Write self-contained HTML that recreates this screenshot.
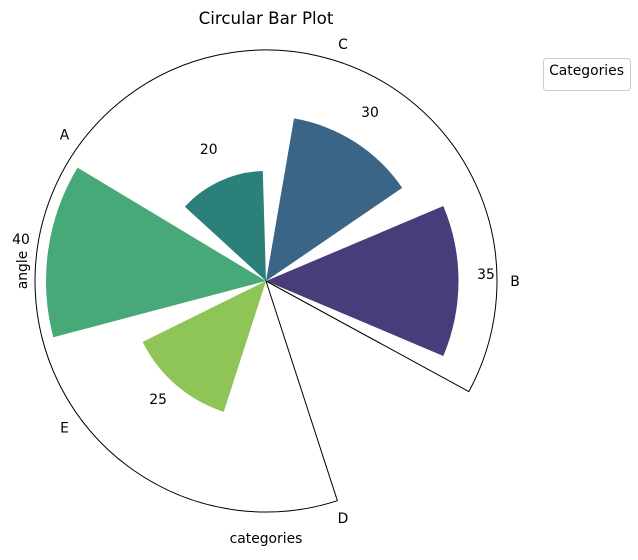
<!DOCTYPE html>
<html><head><meta charset="utf-8"><style>
body{margin:0;background:#fff;}
svg text{font-family:"DejaVu Sans","Liberation Sans",sans-serif;fill:#000;}
</style></head><body>
<svg id="chart" width="638" height="555" viewBox="0 0 638 555" xmlns="http://www.w3.org/2000/svg">
<rect width="638" height="555" fill="#fff"/>
<text x="266" y="24" font-size="16.7" text-anchor="middle">Circular Bar Plot</text>
<text x="266" y="543" font-size="13.9" text-anchor="middle">categories</text>
<text transform="translate(27,270) rotate(-90)" font-size="13.9" text-anchor="middle">angle</text>
<g>
<rect x="543.5" y="58.5" width="87" height="32" rx="3" fill="#fff" stroke="#ccc"/>
<text x="586.5" y="75" font-size="13.9" text-anchor="middle">Categories</text>
</g>
<g id="plot"></g>
</svg>
<script>
const barLabels = ["B","C","teal","A","E"];
const barValues = [35, 30, 20, 40, 25];
const barColors = ["#483d7a","#3b6586","#2b8079","#47a878","#8fc456"];
const tickLabels = ["B","C","A","E","D"];
const cx = 266, cy = 281, rMax = 42, R = 231;
const thetaMinDeg = -28.6, thetaMaxDeg = 288;
const barWidth = 0.8;
function rScale(v){ return v / rMax * R; }
function pt(theta, r){ return [cx + r*Math.cos(theta), cy - r*Math.sin(theta)]; }
const ns = "http://www.w3.org/2000/svg";
const g = document.getElementById("plot");
const t0 = thetaMinDeg*Math.PI/180, t1 = thetaMaxDeg*Math.PI/180;
const a = pt(t0, R), b = pt(t1, R);
const outline = document.createElementNS(ns, "path");
outline.setAttribute("d", `M${cx},${cy} L${a[0]},${a[1]} A${R},${R} 0 1 0 ${b[0]},${b[1]} Z`);
outline.setAttribute("fill", "none");
outline.setAttribute("stroke", "#000");
outline.setAttribute("stroke-width", "1");


g.appendChild(outline);
barValues.forEach((v, i) => {
  const th = i, r = rScale(v);
  const p1 = pt(th - barWidth/2, r), p2 = pt(th + barWidth/2, r);
  const path = document.createElementNS(ns, "path");
  path.setAttribute("d", `M${cx},${cy} L${p1[0]},${p1[1]} A${r},${r} 0 0 0 ${p2[0]},${p2[1]} Z`);
  path.setAttribute("fill", barColors[i]);
  
  
  g.appendChild(path);
  const lp = pt(th, rScale(v + 5));
  const t = document.createElementNS(ns, "text");
  t.setAttribute("x", lp[0]); t.setAttribute("y", lp[1] - 2);
  t.setAttribute("font-size", "13.9"); t.setAttribute("text-anchor", "middle");
  t.textContent = v;
  
  
  g.appendChild(t);
});
tickLabels.forEach((lab, i) => {
  const th = i * 2*Math.PI/5;
  const p = pt(th, 249);
  const t = document.createElementNS(ns, "text");
  t.setAttribute("x", p[0]); t.setAttribute("y", p[1] + 5);
  t.setAttribute("font-size", "13.9"); t.setAttribute("text-anchor", "middle");
  t.textContent = lab;
  
  
  g.appendChild(t);
});
</script>
</body></html>
